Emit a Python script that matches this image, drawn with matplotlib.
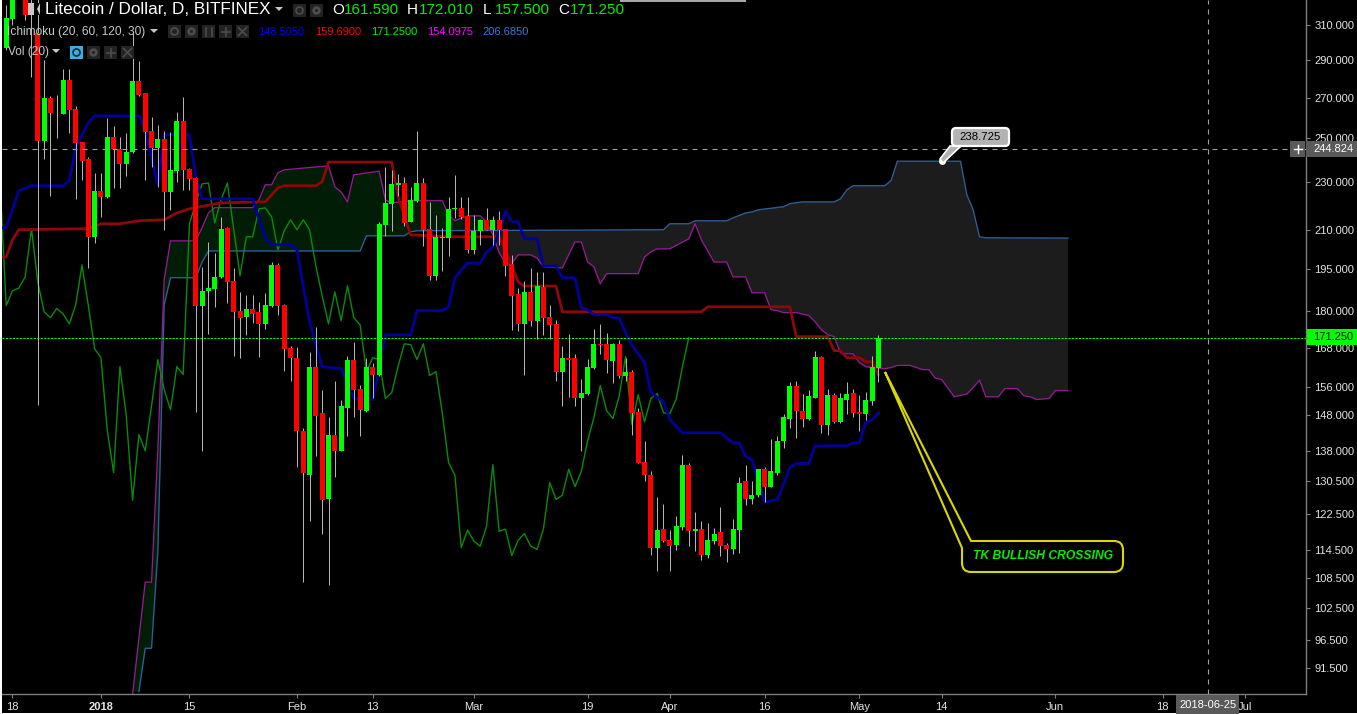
import numpy as np
import matplotlib
matplotlib.use("Agg")
import matplotlib.pyplot as plt
from matplotlib.patches import Rectangle, Polygon, PathPatch, FancyBboxPatch, Circle
from matplotlib.path import Path
from matplotlib.lines import Line2D
from matplotlib.transforms import Affine2D

plt.rcParams['font.family'] = ['Liberation Sans', 'DejaVu Sans']
plt.rcParams['lines.scale_dashes'] = False

# day number 0 = 2018-01-01; first candle is day -15
days = np.arange(-15, 124)
opens = [296.7,313.5,345,331.3,340,305.4,248.8,269.9,262.0,262.0,
         279.3,264.4,248.4,240.5,207.4,226.3,223.8,250.7,245.0,238.2,
         243.7,278.8,272.6,253.6,245.5,249.8,225.8,235.0,258.4,235.9,
         232.0,182.0,187.2,187.9,192.2,211.0,190.8,180.3,178.2,181.0,
         179.9,175.8,182.0,196.6,182.3,168.0,164.9,143.6,132.1,162.1,
         148.5,126.0,142.5,138.2,150.0,164.3,155.5,149.1,162.1,159.7,
         212.2,220.9,228.9,229.7,213.4,221.9,229.7,210.6,192.6,207.0,
         206.8,218.7,219.1,215.8,202.3,209.8,214.2,210.2,214.2,210.6,
         197.0,186.1,175.8,186.8,176.9,188.6,178.2,175.8,160.6,164.9,
         164.9,152.6,154.0,161.8,169.3,169.3,164.0,169.3,159.4,160.6,
         148.8,135.4,132.1,114.8,119.1,116.6,115.5,119.5,134.6,118.6,
         119.1,113.3,116.4,118.4,115.5,114.6,118.9,130.4,126.0,127.0,
         133.4,129.1,132.6,140.7,146.9,156.4,149.1,146.9,152.8,165.2,
         145.2,153.7,146.0,152.3,154.3,148.8,148.3,152.0,161.59]
highs = [322.0,345,350,345,350,328,290.1,270.9,271.5,285.2,
         285.2,265.9,248.4,241.4,234.2,234.2,259.9,256.0,250.7,252.7,
         305.4,289.5,272.6,260.4,256.5,253.6,253.1,262.9,270.5,236.4,
         232.4,195.9,205.4,201.2,215.4,211.4,195.5,186.8,185.8,185.8,
         183.3,186.5,197.7,197.3,182.6,168.7,168.4,144.2,166.8,174.8,
         155.2,147.4,157.9,152.3,165.5,170.0,156.7,164.9,163.3,213.4,
         236.8,235.5,233.7,232.4,228.0,253.6,231.9,221.6,216.2,211.0,
         223.8,233.3,223.8,223.8,216.2,214.6,219.2,215.8,217.9,210.6,
         200.4,188.2,190.8,195.5,194.0,194.0,182.3,177.2,168.7,172.5,
         166.1,158.5,164.6,174.2,175.8,172.9,169.6,170.6,164.9,161.2,
         150.0,140.9,132.9,126.7,125.0,118.9,122.2,137.2,135.1,123.1,
         120.9,120.6,119.3,124.1,115.9,121.3,131.6,134.6,130.4,133.6,
         134.1,141.2,142.2,148.3,157.6,157.9,154.0,155.2,167.1,165.5,
         155.5,154.3,154.3,157.6,155.5,153.7,154.6,165.5,172.01]
lows = [295.6,310.0,330,312.9,280.9,150.8,240.5,224.2,250.3,261.6,
        252.7,222.9,231.1,195.5,205.1,215.4,223.4,227.6,227.6,232.9,
        243.2,271.0,231.1,236.8,228.0,210.2,218.3,230.2,226.7,226.7,
        148.8,138.0,172.5,181.6,191.8,183.0,165.5,164.9,172.2,176.2,
        165.2,174.2,181.6,178.9,160.9,157.9,133.9,107.7,120.9,136.7,
        117.9,107.1,131.4,138.0,142.0,147.4,142.0,148.8,152.6,159.4,
        207.8,209.8,224.0,211.8,213.4,221.6,203.9,191.1,191.1,194.4,
        200.0,215.0,214.6,201.0,200.8,204.3,210.0,204.3,204.3,192.6,
        173.9,173.5,159.7,175.2,170.9,172.2,170.9,157.9,150.5,153.0,
        150.5,138.0,153.7,161.5,166.1,160.3,157.3,158.8,157.9,142.5,
        134.9,130.6,113.3,109.9,116.2,109.9,114.4,118.9,115.3,114.2,
        112.3,112.7,115.7,113.1,111.8,113.5,113.8,124.6,124.8,126.7,
        125.3,129.1,132.1,139.0,144.2,141.5,144.6,146.6,152.8,143.0,
        142.5,145.8,145.8,148.3,147.4,143.6,146.6,150.8,157.5]
closes = [314.1,337.6,335,315.9,330,248.8,269.9,262.4,261.6,279.3,
          263.9,247.9,239.5,207.4,226.3,223.8,250.7,245.0,238.2,243.7,
          278.8,271.5,253.1,245.5,249.8,225.8,235.5,258.4,235.5,231.5,
          182.0,187.2,188.2,192.2,210.6,190.4,179.9,177.9,181.0,179.2,
          175.8,182.3,196.6,182.0,167.7,164.9,143.6,132.6,162.1,147.7,
          125.8,142.5,138.2,150.5,164.3,155.2,149.4,162.1,159.7,212.6,
          221.2,229.3,229.7,213.0,222.5,229.7,210.2,192.6,207.4,207.4,
          218.7,219.1,215.4,202.3,209.8,214.2,210.2,214.2,210.2,196.2,
          185.4,175.8,186.8,176.9,189.0,177.9,175.5,160.6,164.9,164.3,
          152.6,154.3,162.1,169.3,169.0,164.3,169.3,159.4,160.6,148.5,
          135.1,131.9,115.0,118.9,116.4,115.3,119.7,134.6,118.6,119.1,
          113.3,116.6,118.1,115.3,114.6,119.1,130.1,126.0,127.0,133.4,
          129.1,132.9,140.9,147.2,156.4,149.1,146.9,153.4,165.2,145.2,
          153.7,146.0,152.6,154.0,148.5,148.3,152.3,162.1,171.25]

tenkan_days = [-16,-15,-13,-11,-6,-5,-4,-2,-1,6,7,9,10,14,15,16,24,26,27,30,31,33,35,38,40,43,45,49,50,54,55,56,
               58,60,61,62,63,64,65,66,67,69,70,72,73,75,76,77,78,80,81,82,83,84,86,87,89,90,92,98,100,101,102,103,
               105,107,108,109,110,112,113,118,119,120,121,122,123]
tenkan_vals = [211.0,211.0,226.3,228.5,228.5,230.7,245.9,257.5,260.9,260.9,254.1,228.9,251.7,251.7,232.4,222.9,222.9,
               207.0,204.3,204.3,202.3,176.5,162.1,161.5,152.6,152.3,172.2,172.2,180.3,180.3,181.6,191.9,
               197.3,197.3,201.5,203.5,209.0,217.9,213.4,213.4,206.6,206.6,196.2,196.2,191.9,191.9,181.3,180.6,178.9,
               178.9,177.9,177.9,172.9,169.0,163.3,154.3,151.7,146.6,143.0,143.0,140.3,140.3,136.7,135.9,
               125.3,126.0,129.6,133.9,134.9,134.9,139.5,139.5,140.3,140.3,145.8,146.6,148.5]

kijun_days = [-16,-15,-14,-13,-2,0,3,6,10,12,14,19,26,28,29,34,35,36,46,47,49,55,63,64,66,67,72,73,95,96,109,110,115,
              116,117,118,120,121,122,123]
kijun_vals = [199.6,199.6,206.2,210.2,210.6,212.6,212.6,213.8,214.2,217.0,218.7,221.2,221.6,227.6,228.5,228.5,230.2,
              239.0,239.0,223.8,208.2,207.4,207.4,202.3,190.4,188.9,188.9,179.9,179.9,181.6,181.6,171.6,171.6,
              167.1,167.1,164.9,164.9,163.6,163.6,159.7]

senkou_a_days = [5,7,8,9,10,11,15,16,17,18,24,25,26,27,28,29,36,37,38,39,40,44,45,46,49,54,55,56,58,60,61,62,63,64,65,66,
                 68,69,70,73,75,76,77,78,79,80,85,86,87,88,90,93,94,95,97,99,100,102,103,105,106,107,108,110,112,113,
                 114,115,116,117,118,119,120,121,122,124,125,126,128,130,131,132,133,135,137,138,139,140,142,143,145,
                 146,147,148,150,151,153]
senkou_a_vals = [87.0,107.7,107.7,138.5,191.1,205.8,205.8,211.0,217.0,219.2,219.2,222.5,228.9,228.9,234.2,235.5,237.3,
                 228.0,225.8,221.6,233.3,234.9,222.5,221.2,222.1,222.1,216.2,213.8,215.8,215.8,213.4,208.2,201.2,197.3,
                 197.3,200.4,200.4,199.2,195.9,195.5,205.4,205.4,197.7,195.9,189.7,193.4,193.4,199.6,201.5,202.7,202.7,
                 206.6,212.6,206.2,197.7,197.7,192.2,192.2,186.5,186.5,180.6,180.3,179.6,179.6,178.6,176.5,
                 173.9,172.2,171.6,166.4,166.1,166.1,163.3,162.1,161.8,161.5,161.8,162.5,162.5,161.2,161.2,158.6,158.2,
                 153.1,153.9,155.8,158.0,153.1,153.1,155.5,155.5,153.4,153.1,152.3,152.6,154.9,154.9]

senkou_b_days = [6,7,8,9,10,11,15,16,17,41,42,48,49,50,89,90,93,94,99,100,102,103,104,108,109,111,116,117,118,119,124,
                 125,126,136,137,138,139,140,153]
senkou_b_vals = [87.5,95.0,95.0,114.2,182.3,191.9,191.9,197.7,201.9,201.9,207.8,207.8,209.4,209.8,210.2,212.6,212.6,
                 213.8,213.8,215.0,217.0,217.4,218.3,219.6,220.9,221.6,221.6,222.9,226.7,228.5,228.5,
                 230.7,239.4,239.4,224.6,218.3,207.4,207.0,206.9]

price_ticks = [310,290,270,250,230,210,195,180,168,156,148,138,130.5,122.5,114.5,108.5,102.5,96.5,91.5]
date_tick_days = [-14,0,14,31,43,59,77,90,105,120,133,151,168,181]
date_tick_labels = ['18','2018','15','Feb','13','Mar','19','Apr','16','May','14','Jun','18','Jul']

last_close = 171.25
cross_price = 244.824
cross_day = 175.1
cloud_top_day = 133
cloud_top_price = 239.4

W, H = 1357, 714
fig = plt.figure(figsize=(W/100, H/100), dpi=100, facecolor='white')
pix = Affine2D().scale(1, -1).translate(0, H)   # screen-pixel frame for UI furniture

fig.add_artist(Rectangle((2, 0), W-2, H-1, transform=pix, fc='black', ec='none', zorder=-5))

ax = fig.add_axes([2/W, 20/H, 1304/W, 694/H], facecolor='black')
ax.set_yscale('log')
ax.set_xlim(-15.66, 190.66)
ax.set_ylim(87.1, 325.06)

for s in ['top', 'left']:
    ax.spines[s].set_visible(False)
for s in ['bottom', 'right']:
    ax.spines[s].set_color('#7f7f7f')
    ax.spines[s].set_linewidth(1.0)

ax.yaxis.tick_right()
ax.set_yticks(price_ticks)
ax.set_yticklabels(['%.3f' % v for v in price_ticks])
ax.minorticks_off()
ax.tick_params(axis='y', which='both', right=True, left=False, length=3, width=0.8, color='#7f7f7f',
               labelcolor='#e4e4e4', labelsize=8, pad=3)
ax.set_xticks(date_tick_days)
ax.set_xticklabels(date_tick_labels)
ax.tick_params(axis='x', length=3, width=0.8, color='#7f7f7f', labelcolor='#e4e4e4', labelsize=8, pad=3)
ax.get_xticklabels()[1].set_fontweight('bold')

# cloud
grid = np.arange(5, 154)
a_line = np.interp(grid, senkou_a_days, senkou_a_vals)
b_line = np.interp(grid, senkou_b_days, senkou_b_vals)
ax.fill_between(grid, a_line, b_line, where=a_line >= b_line, interpolate=True, color='#021d06', lw=0, zorder=1)
ax.fill_between(grid, a_line, b_line, where=a_line < b_line, interpolate=True, color='#1c1c1c', lw=0, zorder=1)

# ichimoku lines
ax.plot(senkou_b_days, senkou_b_vals, color='#2f5f98', lw=0.95, zorder=2)
ax.plot(senkou_a_days, senkou_a_vals, color='#931c93', lw=0.95, zorder=2)
ax.plot(days - 30, closes, color='#0a8c0a', lw=1.0, zorder=2)
ax.plot(kijun_days, kijun_vals, color='#8d0808', lw=2.0, zorder=2.2, solid_joinstyle='round')
ax.plot(tenkan_days, tenkan_vals, color='#00009a', lw=2.0, zorder=2.2, solid_joinstyle='round')

# last price line
ax.axhline(last_close, color='#00ff00', lw=0.8, ls=(0, (1.5, 1.0)), zorder=2.5)

# candles
o, c = np.array(opens), np.array(closes)
cols = np.where(c >= o, '#00ff00', '#ff0000')
ax.vlines(days, lows, highs, color='#b4b4b4', lw=0.72, zorder=3)
ax.bar(days, np.abs(c - o), bottom=np.minimum(o, c), width=5/6.32, color=list(cols), lw=0, zorder=4)

# crosshair
dash = (0, (3.6, 3.6))
ax.axhline(cross_price, color='#a0a0a0', lw=0.8, ls=dash, zorder=5)
ax.axvline(cross_day, color='#a0a0a0', lw=0.8, ls=dash, zorder=5)

# callout on the cloud
ax.plot([cloud_top_day], [cloud_top_price], 'o', ms=4.0, mfc='white', mec='white', zorder=7)


def add(artist):
    artist.set_zorder(10)
    fig.add_artist(artist)
    return artist


def rect(x0, y0, x1, y1, color):
    add(Rectangle((x0, y0), x1-x0, y1-y0, transform=pix, fc=color, ec='none'))


def label(x, y, s, color='white', size=8, ha='left', **kw):
    t = fig.text(x, y, s, transform=pix, color=color, fontsize=size, ha=ha, va='center', zorder=11, **kw)
    return t


def tri(x, y, color='#c8c8c8'):
    add(Polygon([(x-4, y-2), (x+4, y-2), (x, y+2)], transform=pix, fc=color, ec='none'))


def seg(x0, y0, x1, y1, color='#555555', lw=1.2):
    a = add(Line2D([x0, x1], [y0, y1], transform=pix, color=color, lw=lw))
    a.set_zorder(11)


def icon(x, y, kind, bg='#232323', fg='#4d4d4d'):
    rect(x, y, x+13, y+13, bg)
    cx, cy = x+6.5, y+6.5
    if kind == 'plus':
        seg(cx-4, cy, cx+4, cy, fg); seg(cx, cy-4, cx, cy+4, fg)
    elif kind == 'x':
        seg(cx-4, cy-4, cx+4, cy+4, fg); seg(cx-4, cy+4, cx+4, cy-4, fg)
    elif kind == 'eye':
        a = add(Circle((cx, cy), 3.5, transform=pix, fc='none', ec=fg, lw=1.2)); a.set_zorder(11)
    elif kind == 'gear':
        a = add(Circle((cx, cy), 3.5, transform=pix, fc=fg, ec=fg, lw=1)); a.set_zorder(11)
        b = add(Circle((cx, cy), 1.5, transform=pix, fc=bg, ec='none')); b.set_zorder(12)
    elif kind == 'brace':
        seg(cx-3, cy-4, cx-3, cy+4, fg); seg(cx+3, cy-4, cx+3, cy+4, fg)


# header line 1
rect(28, 3, 40, 15, '#c8c8c8')
add(Polygon([(34, 3), (40, 3), (37, 9), (40, 15), (34, 15)], transform=pix, fc='black', ec='none'))
label(45, 10, 'Litecoin / Dollar, D, BITFINEX', size=12.3)
tri(279, 9)
icon(293, 4, 'eye'); icon(310, 4, 'gear')
for lx, vx, txt in [(332, 344, '161.590'), (407, 419, '172.010'), (483, 495, '157.500'), (558, 570, '171.250')]:
    label(lx, 10, {332: 'O', 407: 'H', 483: 'L', 558: 'C'}[lx], size=11)
    label(vx, 10, txt, color='#00ee00', size=11)

# header line 2
label(7, 32, 'Ichimoku (20, 60, 120, 30)', color='#c8c8c8', size=8.6)
tri(154, 31)
for ix, k in zip([168, 185, 202, 219, 236], ['eye', 'gear', 'brace', 'plus', 'x']):
    icon(ix, 25, k)
for vx, txt, col in [(258, '148.5050', '#0000ff'), (315, '159.6900', '#ff0000'), (371, '171.2500', '#00ee00'),
                     (427, '154.0975', '#ff00ff'), (482, '206.6850', '#3c78d8')]:
    label(vx, 32, txt, color=col, size=8)

# header line 3
label(8, 52, 'Vol (20)', color='#c8c8c8', size=8.6)
tri(56, 51)
icon(70, 46, 'eye', bg='#3bb0e0', fg='#10283a')
for ix, k in zip([87, 104, 121], ['gear', 'plus', 'x']):
    icon(ix, 46, k)

# top chrome sliver
rect(620, 0, 746, 2, '#a8a8a8')

# right-axis labels
rect(1290, 141, 1305, 157, '#5a5a5a')
seg(1293.5, 149, 1301.5, 149, 'white', 1.0); seg(1297.5, 145, 1297.5, 153, 'white', 1.0)
rect(1306, 141, 1357, 157, '#5a5a5a')
label(1313, 149, '244.824', color='white', size=8)
rect(1307, 329, 1357, 345, '#00ff00')
label(1313, 337, '171.250', color='#101010', size=8)

# crosshair date label
rect(1176, 695, 1239, 714, '#5a5a5a')
label(1207.5, 705, '2018-06-25', color='white', size=8, ha='center')

# 238.725 callout
add(Polygon([(940, 159), (950, 146), (961, 146), (943, 163)], transform=pix, fc='#b3b3b3', ec='white', lw=1.2))
add(FancyBboxPatch((952, 128), 57, 18, boxstyle='round,pad=0,rounding_size=4', transform=pix,
                   fc='#b3b3b3', ec='white', lw=1.6, mutation_aspect=1))
label(980.5, 136.5, '238.725', color='black', size=8.2, ha='center')

# TK crossing callout
C3, L2, M = Path.CURVE3, Path.LINETO, Path.MOVETO
verts = [(885, 372), (971, 541), (1114, 541), (1123, 541), (1123, 550), (1123, 563), (1123, 572), (1114, 572),
         (971, 572), (962, 572), (962, 563), (962, 548), (885, 372)]
codes = [M, L2, L2, C3, C3, L2, C3, C3, L2, C3, C3, L2, L2]
add(PathPatch(Path(verts, codes), transform=pix, fc='none', ec='#d8d800', lw=1.5))
label(1043, 556, 'TK BULLISH CROSSING', color='#00ee00', size=8.7, ha='center', fontweight='bold', fontstyle='italic')

fig.savefig('out.png', dpi=100, facecolor=fig.get_facecolor())
